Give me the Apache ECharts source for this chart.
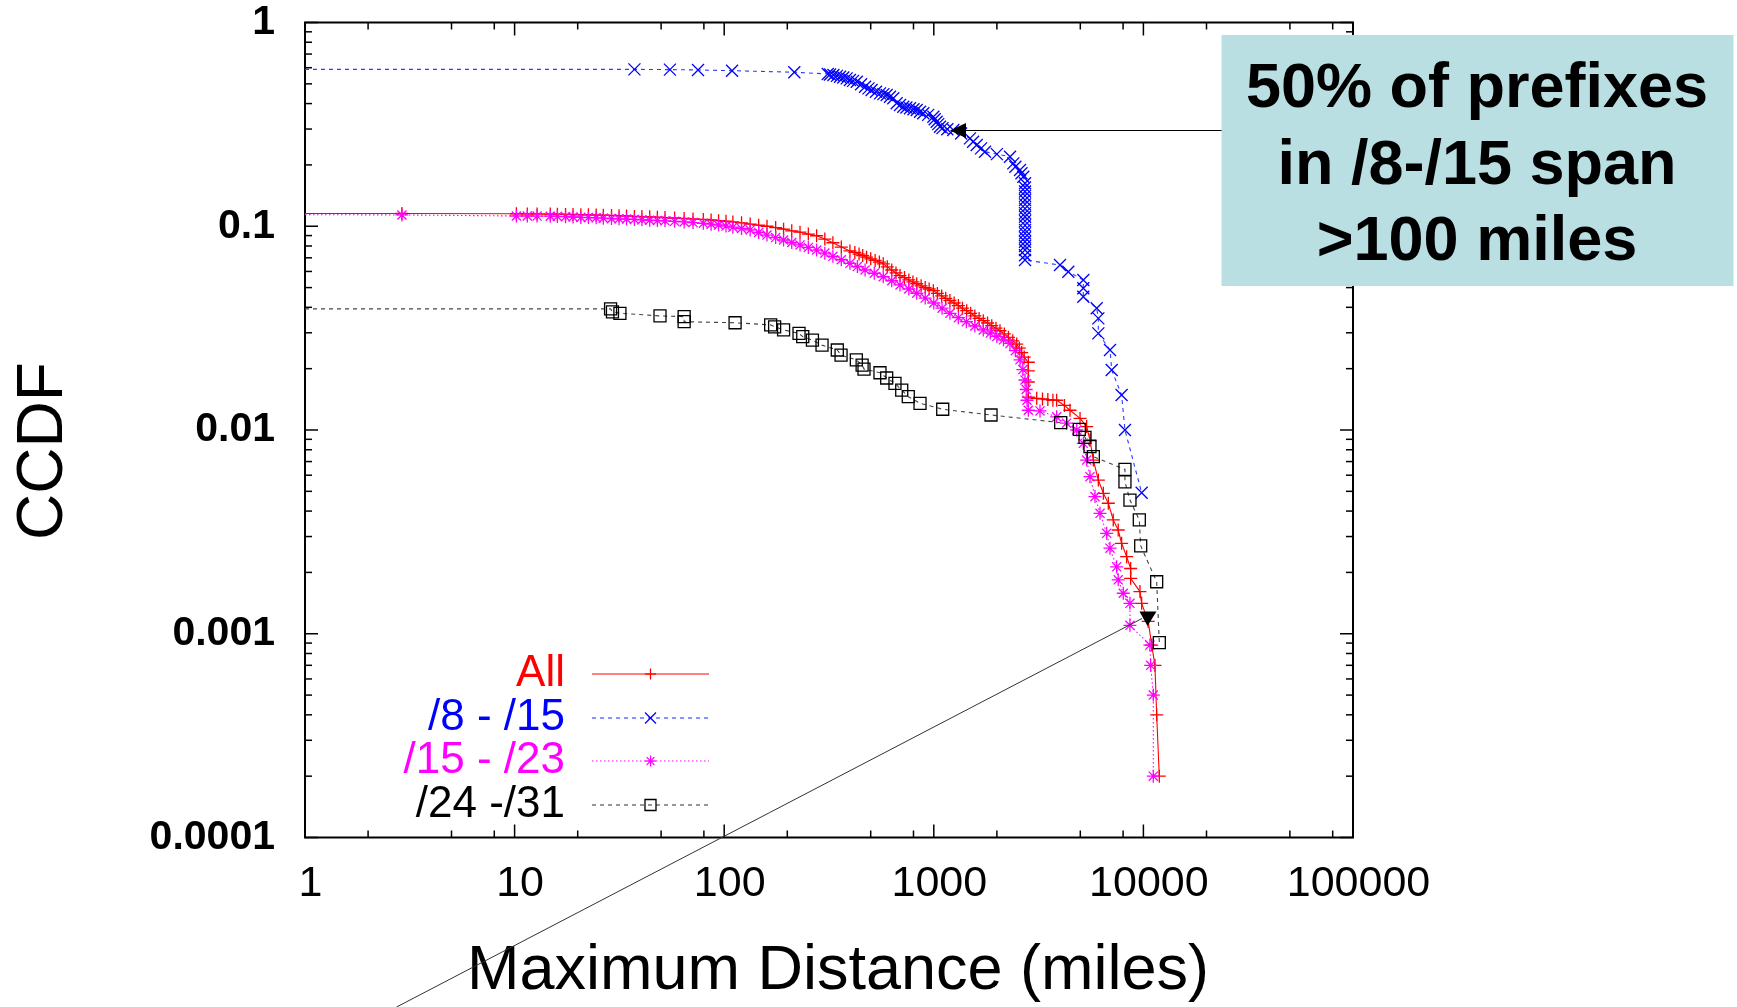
<!DOCTYPE html>
<html><head><meta charset="utf-8">
<script src="https://cdn.jsdelivr.net/npm/echarts@6/dist/echarts.min.js"></script>
<style>html,body{margin:0;padding:0;background:#fff}#c{width:1737px;height:1007px}</style>
</head><body><div id="c"></div>
<script>
// ---------- tick labels / ticks ----------
const xTickLabels = ['1', '10', '100', '1000', '10000', '100000'];
const yTickLabels = ['0.0001', '0.001', '0.01', '0.1', '1'];
const xMajorTicks = [1, 10, 100, 1000, 10000, 100000];
const xMinorTicks = [2, 5, 8, 20, 50, 80, 200, 500, 800, 2000, 5000, 8000, 20000, 50000, 80000];
const yMajorTicks = [0.0001, 0.001, 0.01, 0.1, 1];
const yMinorTicks = [0.0002, 0.0003, 0.0004, 0.0005, 0.0006, 0.0007, 0.0008, 0.0009,
  0.002, 0.003, 0.004, 0.005, 0.006, 0.007, 0.008, 0.009,
  0.02, 0.03, 0.04, 0.05, 0.06, 0.07, 0.08, 0.09,
  0.2, 0.3, 0.4, 0.5, 0.6, 0.7, 0.8, 0.9];

// ---------- series names ----------
const seriesNames = ['All', '/8 - /15', '/15 - /23', '/24 -/31'];

// ---------- All ----------
const allX = [1, 2.9, 10.2, 11.5, 12.8, 14.8, 16, 17.5, 19, 20.7, 22.5, 24.5, 26.5, 29, 31.5, 34.2, 37.3, 40.5, 44.1, 48, 52.2, 58, 64.4, 71, 79.5, 86.6, 94, 102, 110, 121, 133, 146, 160, 176, 192, 210, 230, 252, 276, 302, 330, 362, 398, 420, 440, 458, 478, 500, 525, 550, 574, 600, 630, 660, 690, 725, 760, 795, 829, 870, 910, 950, 995, 1040, 1090, 1140, 1194, 1250, 1310, 1370, 1435, 1500, 1570, 1645, 1722, 1805, 1890, 1980, 2069, 2170, 2270, 2380, 2486, 2560, 2626, 2700, 2825, 2825, 2825, 2825, 3097, 3300, 3500, 3700, 3857, 4200, 4466, 4986, 5361, 5561, 5770, 6096, 6440, 6802, 7181, 7584, 7870, 8318, 8692, 8692, 9631, 9810, 10540, 10960, 11350, 11570, 11910];
const allY = [0.1155, 0.1155, 0.1152, 0.1150, 0.1149, 0.1147, 0.1146, 0.1143, 0.1142, 0.1140, 0.1138, 0.1135, 0.1133, 0.1130, 0.1127, 0.1123, 0.1118, 0.1115, 0.1112, 0.1108, 0.1103, 0.1098, 0.1092, 0.1086, 0.1080, 0.1073, 0.1065, 0.1058, 0.1050, 0.1040, 0.1025, 0.1012, 0.1000, 0.0985, 0.0968, 0.0950, 0.0935, 0.0915, 0.0898, 0.0865, 0.0830, 0.0790, 0.0757, 0.0744, 0.0730, 0.0718, 0.0705, 0.0692, 0.0680, 0.0667, 0.0654, 0.0632, 0.0610, 0.0590, 0.0573, 0.0560, 0.0545, 0.0533, 0.0522, 0.0510, 0.0500, 0.0492, 0.0483, 0.0468, 0.0455, 0.0443, 0.0432, 0.0420, 0.0408, 0.0396, 0.0385, 0.0374, 0.0363, 0.0353, 0.0344, 0.0335, 0.0325, 0.0316, 0.0307, 0.0296, 0.0285, 0.0274, 0.0264, 0.0252, 0.0240, 0.0228, 0.0215, 0.0195, 0.0172, 0.0145, 0.0143, 0.0142, 0.0141, 0.0140, 0.0140, 0.0132, 0.0125, 0.0114, 0.0104, 0.00893, 0.00712, 0.00568, 0.00489, 0.00437, 0.00362, 0.00323, 0.00278, 0.00239, 0.00209, 0.00187, 0.00161, 0.00141, 0.00115, 0.00088, 0.0007, 0.0004, 0.0002];

// ---------- /8 - /15 ----------
const p8X = [1, 37.3, 55.1, 75, 109, 216, 312, 320, 332, 345, 357, 370, 384, 398, 412, 429, 450, 470, 488, 505, 530, 554, 575, 596, 618, 641, 665, 690, 715, 740, 770, 800, 829, 860, 891, 940, 995, 1010, 1032, 1050, 1070, 1100, 1160, 1239, 1350, 1488, 1540, 1602, 1680, 1755, 2000, 2310, 2395, 2450, 2578, 2620, 2673, 2724, 2724, 2724, 2724, 2724, 2724, 2724, 2724, 2724, 2724, 2724, 2724, 2724, 2724, 2724, 2724, 2724, 2724, 2724, 4001, 4382, 5167, 5167, 5167, 5986, 6096, 6096, 6928, 7060, 7870, 8166, 9810];
const p8Y = [0.589, 0.589, 0.587, 0.585, 0.580, 0.570, 0.559, 0.556, 0.553, 0.547, 0.542, 0.537, 0.532, 0.522, 0.517, 0.512, 0.498, 0.484, 0.475, 0.466, 0.457, 0.449, 0.445, 0.4406, 0.432, 0.4246, 0.4013, 0.394, 0.3862, 0.383, 0.3793, 0.375, 0.372, 0.365, 0.3584, 0.352, 0.3449, 0.335, 0.326, 0.317, 0.308, 0.303, 0.299, 0.2968, 0.285, 0.270, 0.260, 0.2505, 0.241, 0.2322, 0.226, 0.2195, 0.2036, 0.196, 0.1888, 0.182, 0.175, 0.1625, 0.155, 0.148, 0.141, 0.1345, 0.128, 0.122, 0.116, 0.1114, 0.106, 0.101, 0.096, 0.0923, 0.088, 0.084, 0.080, 0.0764, 0.072, 0.0683, 0.0645, 0.0598, 0.0545, 0.0496, 0.0451, 0.0396, 0.0353, 0.0298, 0.0247, 0.0197, 0.01485, 0.0100, 0.00492];

// ---------- /15 - /23 ----------
const p15X = [1, 2.9, 10.2, 11.5, 12.8, 14.8, 16, 17.5, 19, 20.7, 22.5, 24.5, 26.5, 29, 31.5, 34.2, 37.3, 40.5, 44.1, 48, 52.2, 58, 64.4, 71, 79.5, 86.6, 94, 102, 110, 121, 133, 146, 160, 176, 192, 210, 230, 252, 276, 302, 330, 362, 398, 432, 470, 520, 574, 630, 690, 760, 829, 910, 1000, 1095, 1194, 1310, 1430, 1570, 1722, 1860, 2000, 2150, 2310, 2450, 2578, 2660, 2724, 2760, 2784, 2825, 3212, 3857, 4300, 4809, 5167, 5361, 5561, 5876, 6209, 6681, 6928, 7453, 7584, 8017, 8627, 8627, 10740, 10830, 11150, 11150];
const p15Y = [0.1140, 0.1136, 0.1123, 0.1123, 0.1122, 0.1120, 0.1117, 0.1114, 0.1110, 0.1105, 0.1103, 0.1100, 0.1095, 0.1090, 0.1088, 0.1085, 0.1080, 0.1075, 0.1070, 0.1066, 0.1063, 0.1057, 0.1050, 0.1042, 0.1034, 0.1024, 0.1014, 0.1002, 0.0990, 0.0975, 0.0959, 0.0932, 0.0905, 0.0880, 0.0856, 0.0832, 0.0810, 0.0787, 0.0764, 0.0738, 0.0712, 0.0685, 0.0658, 0.0634, 0.0610, 0.0588, 0.0565, 0.0540, 0.0515, 0.0492, 0.0469, 0.0444, 0.0420, 0.0396, 0.0374, 0.0356, 0.0340, 0.0324, 0.0310, 0.0299, 0.0288, 0.0277, 0.0266, 0.0245, 0.0221, 0.0198, 0.0176, 0.0158, 0.0140, 0.0125, 0.0124, 0.0116, 0.0108, 0.0100, 0.0086, 0.00712, 0.0059, 0.00471, 0.0039, 0.00311, 0.00263, 0.00213, 0.00184, 0.00158, 0.00141, 0.0011, 0.00088, 0.0007, 0.0005, 0.0002];

// ---------- /24 -/31 ----------
const p24X = [1, 28.7, 29.3, 31.8, 49.4, 64.4, 64.4, 112.7, 166.6, 174, 192, 227.5, 237, 263.6, 292.9, 346.4, 361, 427, 455, 464.5, 553.6, 596, 652.8, 703, 755.5, 859.6, 1103, 1875, 4031, 4946, 5265, 5561, 5770, 8166, 8166, 8627, 9560, 9708, 11570, 11910];
const p24Y = [0.0393, 0.0393, 0.0380, 0.0374, 0.0363, 0.0360, 0.0340, 0.0336, 0.0328, 0.0321, 0.0310, 0.0298, 0.0287, 0.0276, 0.0261, 0.0247, 0.0233, 0.0221, 0.0208, 0.0199, 0.0191, 0.0180, 0.01695, 0.0157, 0.01457, 0.01352, 0.01264, 0.01185, 0.01086, 0.01008, 0.0092, 0.00828, 0.0074, 0.00641, 0.00557, 0.00453, 0.00362, 0.0027, 0.0018, 0.000904];

// ---------- annotation text ----------
const noteLines = ['50% of prefixes', 'in /8-/15 span', '>100 miles'];

const FONT = '"Liberation Sans", Arial, Helvetica, sans-serif';
const SYM_PLUS = 'path://M0,5L10,5M5,0L5,10';
const SYM_CROSS = 'path://M0,0L10,10M10,0L0,10';
const SYM_STAR = 'path://M0,5L10,5M5,0L5,10M1.5,1.5L8.5,8.5M8.5,1.5L1.5,8.5';
const SYM_SQUARE = 'path://M0,0L10,0L10,10L0,10Z';

function buildData(xs, ys) {
  return xs.map((x, i) => i === 0 ? { value: [x, ys[i]], symbol: 'none' } : [x, ys[i]]);
}

function lineSeries(name, xs, ys, color, lineColor, lineType, sym, size) {
  return {
    type: 'line', name: name, data: buildData(xs, ys),
    symbol: sym, symbolSize: size, symbolKeepAspect: true, showAllSymbol: true,
    lineStyle: { color: lineColor, width: 1.1, type: lineType },
    itemStyle: { color: 'none', borderColor: color, borderWidth: 1.3 },
    emphasis: { disabled: true }, animation: false, clip: true, smooth: false
  };
}

function tickSeries(vals, isX, len) {
  return {
    type: 'custom', silent: true, animation: false, z: 10,
    data: vals.map(v => isX ? [v, 1] : [1, v]),
    renderItem: function (params, api) {
      const cs = params.coordSys;
      const p = api.coord([api.value(0), api.value(1)]);
      const st = { stroke: '#000', lineWidth: 1.5 };
      if (isX) {
        const x = p[0];
        return { type: 'group', children: [
          { type: 'line', shape: { x1: x, y1: cs.y + cs.height, x2: x, y2: cs.y + cs.height - len }, style: st },
          { type: 'line', shape: { x1: x, y1: cs.y, x2: x, y2: cs.y + len }, style: st }
        ] };
      }
      const y = p[1];
      return { type: 'group', children: [
        { type: 'line', shape: { x1: cs.x, y1: y, x2: cs.x + len, y2: y }, style: st },
        { type: 'line', shape: { x1: cs.x + cs.width, y1: y, x2: cs.x + cs.width - len, y2: y }, style: st }
      ] };
    }
  };
}

// ---------- legend (graphic) ----------
function markerEls(kind, cx, cy, color, s) {
  const h = s / 2, st = { stroke: color, lineWidth: 1.3, fill: null };
  const L = (x1, y1, x2, y2) => ({ type: 'line', z: 100, shape: { x1, y1, x2, y2 }, style: st });
  if (kind === 'plus') return [L(cx - h, cy, cx + h, cy), L(cx, cy - h, cx, cy + h)];
  if (kind === 'cross') return [L(cx - h, cy - h, cx + h, cy + h), L(cx + h, cy - h, cx - h, cy + h)];
  if (kind === 'star') { const d = h * 0.7; return [L(cx - h, cy, cx + h, cy), L(cx, cy - h, cx, cy + h), L(cx - d, cy - d, cx + d, cy + d), L(cx + d, cy - d, cx - d, cy + d)]; }
  return [{ type: 'rect', z: 100, shape: { x: cx - h, y: cy - h, width: s, height: s }, style: { stroke: color, lineWidth: 1.3, fill: 'none' } }];
}
const legendRows = [
  { text: seriesNames[0], color: '#ff0000', line: '#ff0000', dash: null, mk: 'plus', y: 674 },
  { text: seriesNames[1], color: '#0000ff', line: '#2a3cff', dash: [4, 4], mk: 'cross', y: 718 },
  { text: seriesNames[2], color: '#ff00ff', line: '#ff00ff', dash: [1.5, 2.5], mk: 'star', y: 761 },
  { text: seriesNames[3], color: '#000000', line: '#444444', dash: [4, 4], mk: 'square', y: 805 }
];
const graphics = [];
legendRows.forEach(r => {
  graphics.push({ type: 'text', z: 100, x: 565, y: r.y, style: { text: r.text, fill: r.color, font: '44px ' + FONT, align: 'right', verticalAlign: 'middle', textAlign: 'right', textVerticalAlign: 'middle' } });
  graphics.push({ type: 'line', z: 100, shape: { x1: 592, y1: r.y, x2: 709, y2: r.y }, style: { stroke: r.line, lineWidth: 1.1, lineDash: r.dash } });
  markerEls(r.mk, 650.5, r.y, r.color, 11).forEach(e => graphics.push(e));
});

// ---------- annotation ----------
graphics.push({ type: 'rect', z: 110, shape: { x: 1221.5, y: 35, width: 512, height: 251 }, style: { fill: '#b9dfe3' } });
[90, 167, 243].forEach((yy, i) => {
  graphics.push({ type: 'text', z: 111, x: 1477, y: yy, style: { text: noteLines[i], fill: '#000', font: 'bold 63px ' + FONT, align: 'center', verticalAlign: 'middle', textAlign: 'center', textVerticalAlign: 'middle' } });
});
graphics.push({ type: 'line', z: 105, shape: { x1: 962, y1: 130.5, x2: 1222, y2: 130.5 }, style: { stroke: '#000', lineWidth: 1.2 } });
graphics.push({ type: 'polygon', z: 105, shape: { points: [[950, 130.5], [966, 123], [966, 138]] }, style: { fill: '#000' } });
graphics.push({ type: 'line', z: 105, shape: { x1: 396.6, y1: 1007, x2: 1142, y2: 618.5 }, style: { stroke: '#333', lineWidth: 1 } });
graphics.push({ type: 'polygon', z: 105, shape: { points: [[1139.5, 611.5], [1156.5, 611.5], [1147.5, 626]] }, style: { fill: '#000' } });

const chart = echarts.init(document.getElementById('c'), null, { renderer: 'canvas' });
chart.setOption({
  backgroundColor: '#ffffff',
  animation: false,
  grid: { left: 305, top: 22.5, width: 1048, height: 815, containLabel: false, outerBoundsMode: 'none',
    show: true, borderColor: '#000', borderWidth: 2, backgroundColor: 'transparent' },
  xAxis: {
    type: 'log', logBase: 10, min: 1, max: 100000,
    axisLine: { show: false }, axisTick: { show: false }, splitLine: { show: false }, minorTick: { show: false },
    axisLabel: { show: true, interval: 0, showMinLabel: true, showMaxLabel: true, color: '#000', fontSize: 43, fontFamily: FONT, margin: 25,
      padding: [0, 0, 0, 11],
      formatter: v => xTickLabels[Math.round(Math.log10(v))] },
    name: 'Maximum Distance (miles)', nameLocation: 'middle', nameGap: 103,
    nameTextStyle: { color: '#000', fontSize: 63, fontFamily: FONT, padding: [0, 0, 0, 18] }
  },
  yAxis: {
    type: 'log', logBase: 10, min: 0.0001, max: 1,
    axisLine: { show: false }, axisTick: { show: false }, splitLine: { show: false }, minorTick: { show: false },
    axisLabel: { show: true, interval: 0, showMinLabel: true, showMaxLabel: true, color: '#000', fontSize: 41, fontWeight: 'bold', fontFamily: FONT, margin: 30,
      formatter: v => yTickLabels[Math.round(Math.log10(v)) + 4] },
    name: 'CCDF', nameLocation: 'middle', nameGap: 229,
    nameTextStyle: { color: '#000', fontSize: 64, fontFamily: FONT, padding: [0, 42, 0, 0] }
  },
  series: [
    lineSeries(seriesNames[0], allX, allY, '#ff0000', '#ff0000', 'solid', SYM_PLUS, 13),
    lineSeries(seriesNames[1], p8X, p8Y, '#0000ff', '#2a3cff', [4, 4], SYM_CROSS, 12),
    lineSeries(seriesNames[2], p15X, p15Y, '#ff00ff', '#ff00ff', [1.5, 2.5], SYM_STAR, 13),
    lineSeries(seriesNames[3], p24X, p24Y, '#000000', '#444444', [4, 4], SYM_SQUARE, 12),
    tickSeries(xMajorTicks, true, 13),
    tickSeries(xMinorTicks, true, 7),
    tickSeries(yMajorTicks, false, 13),
    tickSeries(yMinorTicks, false, 7)
  ],
  graphic: { elements: graphics }
});
</script>
</body></html>
